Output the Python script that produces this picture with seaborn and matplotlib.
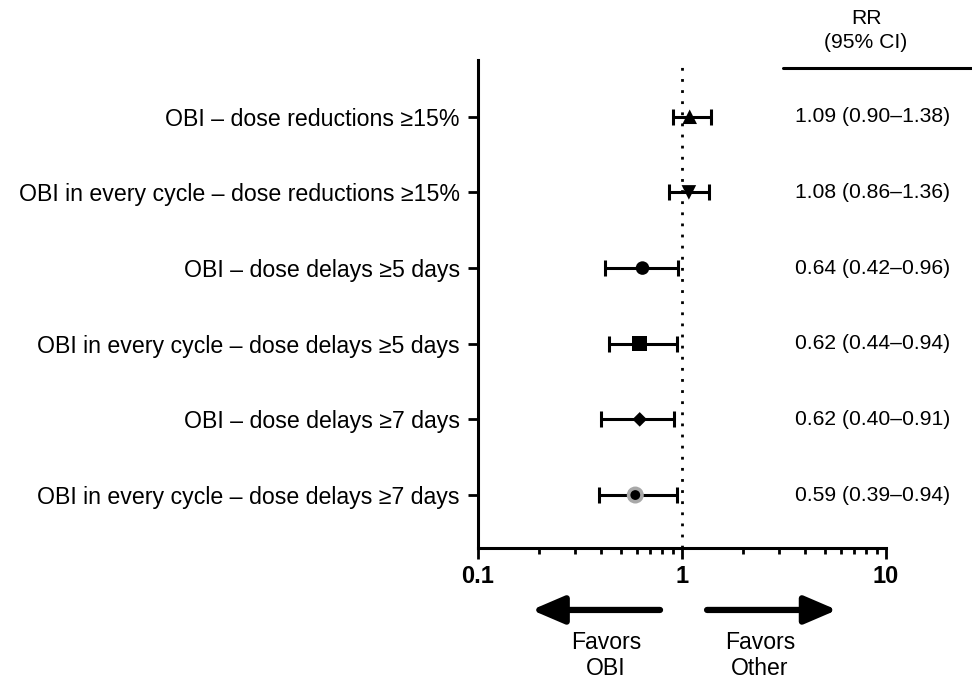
import numpy as np
import pandas as pd
import seaborn as sns
import matplotlib.pyplot as plt
from matplotlib.patches import FancyArrowPatch
from matplotlib.transforms import blended_transform_factory

# forest plot data (top to bottom)
labels = [
    "OBI \u2013 dose reductions \u226515%",
    "OBI in every cycle \u2013 dose reductions \u226515%",
    "OBI \u2013 dose delays \u22655 days",
    "OBI in every cycle \u2013 dose delays \u22655 days",
    "OBI \u2013 dose delays \u22657 days",
    "OBI in every cycle \u2013 dose delays \u22657 days",
]
rr = [1.09, 1.08, 0.64, 0.62, 0.62, 0.59]
ci_low = [0.90, 0.86, 0.42, 0.44, 0.40, 0.39]
ci_high = [1.38, 1.36, 0.96, 0.94, 0.91, 0.94]
markers = ["^", "v", "o", "s", "D", "o"]
x_ticks = [0.1, 1, 10]
x_tick_labels = ["0.1", "1", "10"]

sns.set_style("ticks")
plt.rcParams['font.family'] = ['Liberation Sans', 'DejaVu Sans']
plt.rcParams['text.color'] = 'black'
plt.rcParams['xtick.color'] = 'black'
plt.rcParams['ytick.color'] = 'black'
plt.rcParams['axes.edgecolor'] = 'black'

df = pd.DataFrame({"label": labels, "rr": rr, "lo": ci_low, "hi": ci_high, "marker": markers})
df["y"] = np.arange(len(df), 0, -1)

fig = plt.figure(figsize=(9.72, 6.82), dpi=100)
ax = fig.add_axes([0.4918, 0.1965, 0.4198, 0.7155])

# error bars
for i, row in df.iterrows():
    ax.errorbar(row["rr"], row["y"], xerr=[[row["rr"] - row["lo"]], [row["hi"] - row["rr"]]],
                fmt="none", ecolor="black", elinewidth=2.2, capsize=6, capthick=2.2, zorder=2)

# markers
sizes = {"^": 110, "v": 110, "o": 95, "s": 110, "D": 55}
for i, row in df.iterrows():
    if i == 5:
        sns.scatterplot(x=[row["rr"]], y=[row["y"]], marker="o", s=150, color="#a8a8a8",
                        edgecolor="none", ax=ax, zorder=3)
        sns.scatterplot(x=[row["rr"]], y=[row["y"]], marker="o", s=50, color="black",
                        edgecolor="none", ax=ax, zorder=4)
    else:
        sns.scatterplot(x=[row["rr"]], y=[row["y"]], marker=row["marker"], s=sizes[row["marker"]],
                        color="black", edgecolor="none", ax=ax, zorder=4)

ax.axvline(1, color="black", ls=(0, (1, 3)), lw=2, zorder=1)

ax.set_xscale("log")
ax.set_xlim(0.1, 10)
ax.set_ylim(0.3, 6.75)
ax.set_xticks(x_ticks)
ax.set_xticklabels(x_tick_labels, fontsize=17, fontweight="bold")
ax.set_yticks(df["y"])
ax.set_yticklabels(df["label"], fontsize=16.7)
ax.set_xlabel("")
ax.set_ylabel("")
ax.tick_params(axis="x", which="major", length=8, width=2, pad=4)
ax.tick_params(axis="x", which="minor", length=4, width=2)
ax.tick_params(axis="y", length=7, width=2, pad=6)
sns.despine(ax=ax)
for s in ["left", "bottom"]:
    ax.spines[s].set_linewidth(2.2)

# RR column
tr = blended_transform_factory(fig.transFigure, ax.transData)
for i, row in df.iterrows():
    ax.text(0.898, row["y"], f"{row['rr']:.2f} ({row['lo']:.2f}\u2013{row['hi']:.2f})",
            transform=tr, ha="center", va="center", fontsize=15.2, clip_on=False)
fig.text(0.891, 0.955, "RR\n(95% CI)", ha="center", va="center", fontsize=15.2, linespacing=1.35)
fig.add_artist(plt.Line2D([0.806, 1.0], [0.9, 0.9], transform=fig.transFigure, color="black", lw=2.2))

# favors arrows
trx = blended_transform_factory(ax.transData, ax.transAxes)
for start, end in [(0.78, 0.183), (1.326, 5.75)]:
    arr = FancyArrowPatch((start, -0.127), (end, -0.127), transform=trx,
                          arrowstyle="-|>,head_length=1.4,head_width=0.6", mutation_scale=14,
                          lw=4.5, color="black", clip_on=False, shrinkA=0, shrinkB=0)
    ax.add_patch(arr)
ax.text(0.424, -0.221, "Favors\nOBI", transform=trx, ha="center", va="center", fontsize=16.6, linespacing=1.15)
ax.text(2.41, -0.221, "Favors\nOther", transform=trx, ha="center", va="center", fontsize=16.6, linespacing=1.15)

fig.savefig("out.png", dpi=100)
